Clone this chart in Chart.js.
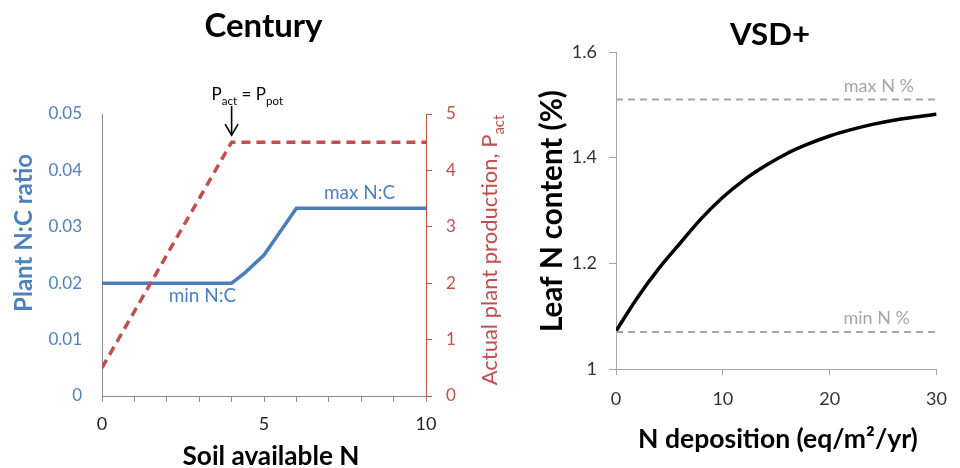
<!DOCTYPE html>
<html><head><meta charset="utf-8">
<script src="https://cdn.jsdelivr.net/npm/chart.js@4.4.1/dist/chart.umd.min.js"></script>
<style>
html,body{margin:0;padding:0;background:#fff;width:960px;height:468px;overflow:hidden}
#l{position:absolute;left:0;top:0}
#r{position:absolute;left:520px;top:0}
</style></head><body>
<canvas id="l" width="520" height="468"></canvas>
<canvas id="r" width="440" height="468"></canvas>
<script>
// ---- Century (left) ----
const soilN      = [0, 4, 4.4, 5, 6, 10];
const plantNC    = [0.02, 0.02, 0.0218, 0.025, 0.0333, 0.0333];
const soilNProd  = [0, 4, 10];
const actualProd = [0.5, 4.5, 4.5];
const ncTicks    = [0, 0.01, 0.02, 0.03, 0.04, 0.05];
const prodTicks  = [0, 1, 2, 3, 4, 5];
const soilTicks  = [0, 1, 2, 3, 4, 5, 6, 7, 8, 9, 10];
const soilLabels = [0, 5, 10];
// ---- VSD+ (right) ----
const nDep       = [0, 2, 4, 6, 8, 10, 12, 14, 16, 18, 20, 22, 24, 26, 28, 30];
const leafN      = [1.072, 1.135, 1.19, 1.238, 1.285, 1.325, 1.358, 1.385, 1.408, 1.426, 1.441, 1.453, 1.463, 1.471, 1.477, 1.482];
const nDepRange  = [0, 30];
const maxNpct    = [1.51, 1.51];
const minNpct    = [1.07, 1.07];
const depTicks   = [0, 10, 20, 30];
const leafTicks  = [1, 1.2, 1.4, 1.6];

const FONT = 'Lato, "Open Sans", sans-serif';
const BLUE = '#4f81bd', RED = '#c0504d', GREY = '#a6a6a6';
const pts = (xs, ys) => xs.map((x, i) => ({x, y: ys[i]}));
const setTicks = arr => s => { s.ticks = arr.map(v => ({value: v})); };

function fitSize(ctx, text, weight, target) {
  ctx.font = weight + ' 100px ' + FONT;
  return 100 * target / ctx.measureText(text).width;
}
function runs(ctx, parts, x, y, size, weight, color, align) {
  const sub = size * 0.68;
  let w = 0;
  parts.forEach(p => { ctx.font = weight + ' ' + (p[1] ? sub : size) + 'px ' + FONT; w += ctx.measureText(p[0]).width; });
  let cx = align === 'center' ? x - w / 2 : x;
  ctx.fillStyle = color; ctx.textAlign = 'left'; ctx.textBaseline = 'alphabetic';
  parts.forEach(p => {
    ctx.font = weight + ' ' + (p[1] ? sub : size) + 'px ' + FONT;
    ctx.fillText(p[0], cx, y + (p[1] ? size * 0.3 : 0));
    cx += ctx.measureText(p[0]).width;
  });
}
function centered(ctx, text, x, y, font, color, rot) {
  ctx.save(); ctx.translate(x, y); if (rot) ctx.rotate(-Math.PI / 2);
  ctx.font = font; ctx.fillStyle = color; ctx.textAlign = 'center'; ctx.textBaseline = 'middle';
  ctx.fillText(text, 0, 0); ctx.restore();
}

const leftText = {
  id: 'leftText',
  afterDraw(chart) {
    const ctx = chart.ctx, xs = chart.scales.x, yN = chart.scales.yN, yP = chart.scales.yP;
    ctx.save();
    let s = fitSize(ctx, 'Century', 'bold', 118);
    ctx.font = 'bold ' + s + 'px ' + FONT; ctx.fillStyle = '#000'; ctx.textAlign = 'center'; ctx.textBaseline = 'alphabetic';
    ctx.fillText('Century', 263.5, 37);
    s = fitSize(ctx, 'Soil available N', 'bold', 177);
    ctx.font = 'bold ' + s + 'px ' + FONT; ctx.fillText('Soil available N', 271, 465);
    s = fitSize(ctx, 'Plant N:C ratio', 'bold', 158);
    centered(ctx, 'Plant N:C ratio', 24, 233, 'bold ' + s + 'px ' + FONT, BLUE, true);
    ctx.save(); ctx.translate(489, 250); ctx.rotate(-Math.PI / 2);
    runs(ctx, [['Actual plant production, P', false], ['act', true]], 0, 8, 22, 'normal', RED, 'center');
    ctx.restore();
    const ax = xs.getPixelForValue(4);
    runs(ctx, [['P', false], ['act', true], [' = P', false], ['pot', true]], ax - 20, 100, 17, 'normal', '#000', 'left');
    const tip = yP.getPixelForValue(4.5) - 7;
    ctx.strokeStyle = '#000'; ctx.lineWidth = 1.6;
    ctx.beginPath(); ctx.moveTo(ax, 106); ctx.lineTo(ax, tip); ctx.stroke();
    ctx.beginPath(); ctx.moveTo(ax - 6.5, tip - 11); ctx.lineTo(ax, tip); ctx.lineTo(ax + 6.5, tip - 11); ctx.stroke();
    centered(ctx, 'max N:C', xs.getPixelForValue(7.95), yN.getPixelForValue(0.0333) - 15, 'normal 19px ' + FONT, BLUE);
    centered(ctx, 'min N:C', xs.getPixelForValue(3.1), yN.getPixelForValue(0.02) + 13, 'normal 19px ' + FONT, BLUE);
    ctx.restore();
  }
};

new Chart(document.getElementById('l'), {
  type: 'line',
  data: { datasets: [
    { data: pts(soilNProd, actualProd), yAxisID: 'yP', borderColor: RED, borderWidth: 3.5, borderDash: [9, 6],
      pointRadius: 0, fill: false, tension: 0 },
    { data: pts(soilN, plantNC), yAxisID: 'yN', borderColor: '#4a7ebb', borderWidth: 3.5,
      pointRadius: 0, fill: false, tension: 0 }
  ]},
  options: {
    responsive: false, animation: false, devicePixelRatio: 1,
    layout: { padding: { top: 114, left: 0, right: 0, bottom: 0 } },
    plugins: { legend: { display: false }, tooltip: { enabled: false } },
    scales: {
      x: { type: 'linear', min: 0, max: 10, afterBuildTicks: setTicks(soilTicks),
        ticks: { autoSkip: false, maxRotation: 0, padding: 11, color: '#222', font: { family: FONT, size: 18 },
          callback: v => soilLabels.includes(v) ? String(v) : '' },
        grid: { drawOnChartArea: false, drawTicks: true, tickLength: 6, color: '#8c8c8c' },
        border: { color: '#8c8c8c', width: 1 },
        afterFit: s => { s.height = 72; } },
      yN: { type: 'linear', position: 'left', min: 0, max: 0.05, afterBuildTicks: setTicks(ncTicks),
        ticks: { padding: 20, color: BLUE, font: { family: FONT, size: 17 }, callback: v => String(v) },
        grid: { display: false, drawTicks: false },
        border: { color: '#8c8c8c', width: 1 },
        afterFit: s => { s.width = 102; } },
      yP: { type: 'linear', position: 'right', min: 0, max: 5, afterBuildTicks: setTicks(prodTicks),
        ticks: { padding: 14, color: RED, font: { family: FONT, size: 17 }, callback: v => String(v) },
        grid: { drawOnChartArea: false, drawTicks: true, tickLength: 6, color: RED },
        border: { color: RED, width: 1 },
        afterFit: s => { s.width = 94; } }
    }
  },
  plugins: [leftText]
});

const rightText = {
  id: 'rightText',
  afterDraw(chart) {
    const ctx = chart.ctx, xs = chart.scales.x, ys = chart.scales.y;
    ctx.save();
    let s = fitSize(ctx, 'VSD+', 'bold', 80);
    ctx.font = 'bold ' + s + 'px ' + FONT; ctx.fillStyle = '#000'; ctx.textAlign = 'center'; ctx.textBaseline = 'alphabetic';
    ctx.fillText('VSD+', 250, 45);
    s = fitSize(ctx, 'N deposition (eq/m²/yr)', 'bold', 280);
    ctx.font = 'bold ' + s + 'px ' + FONT;
    ctx.fillText('N deposition (eq/m²/yr)', 258, 448);
    s = fitSize(ctx, 'Leaf N content (%)', 'bold', 242);
    centered(ctx, 'Leaf N content (%)', 32, 211, 'bold ' + s + 'px ' + FONT, '#000', true);
    centered(ctx, 'max N %', xs.getPixelForValue(24.6), ys.getPixelForValue(1.51) - 13, 'normal 18px ' + FONT, GREY);
    centered(ctx, 'min N %', xs.getPixelForValue(24.4), ys.getPixelForValue(1.07) - 14, 'normal 18px ' + FONT, GREY);
    ctx.restore();
  }
};

new Chart(document.getElementById('r'), {
  type: 'line',
  data: { datasets: [
    { data: pts(nDepRange, maxNpct), borderColor: GREY, borderWidth: 2, borderDash: [7, 5], pointRadius: 0, fill: false },
    { data: pts(nDepRange, minNpct), borderColor: GREY, borderWidth: 2, borderDash: [7, 5], pointRadius: 0, fill: false },
    { data: pts(nDep, leafN), borderColor: '#000', borderWidth: 3.5, pointRadius: 0, fill: false,
      cubicInterpolationMode: 'monotone' }
  ]},
  options: {
    responsive: false, animation: false, devicePixelRatio: 1,
    layout: { padding: { top: 52, left: 0, right: 14, bottom: 0 } },
    plugins: { legend: { display: false }, tooltip: { enabled: false } },
    scales: {
      x: { type: 'linear', min: 0, max: 30, afterBuildTicks: setTicks(depTicks),
        ticks: { autoSkip: false, maxRotation: 0, padding: 13, color: '#333', font: { family: FONT, size: 18 },
          callback: v => String(v) },
        grid: { drawOnChartArea: false, drawTicks: true, tickLength: 6, color: GREY },
        border: { color: GREY, width: 1 },
        afterFit: s => { s.height = 99; } },
      y: { type: 'linear', min: 1, max: 1.6, afterBuildTicks: setTicks(leafTicks),
        ticks: { padding: 12, color: '#333', font: { family: FONT, size: 18 }, callback: v => String(v) },
        grid: { drawOnChartArea: false, drawTicks: true, tickLength: 7, color: GREY },
        border: { color: GREY, width: 1 },
        afterFit: s => { s.width = 96; } }
    }
  },
  plugins: [rightText]
});
</script>
</body></html>
